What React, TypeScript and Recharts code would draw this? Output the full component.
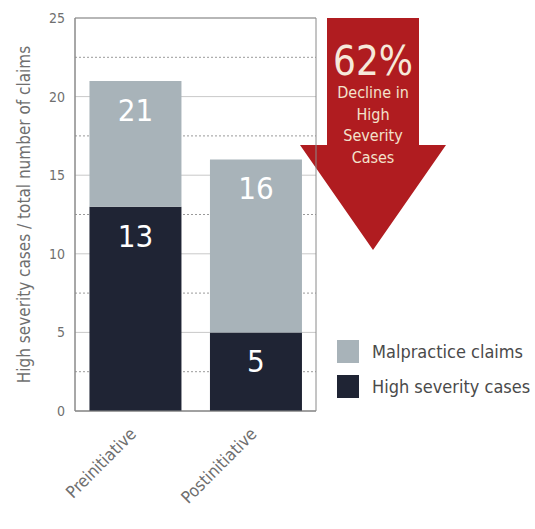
import { BarChart, Bar, XAxis, YAxis, CartesianGrid, LabelList, Customized, ReferenceArea } from "recharts";

const categories = ["Preinitiative", "Postinitiative"];
const malpracticeClaims = [21, 16];
const highSeverityCases = [13, 5];
const yTicks = [0, 5, 10, 15, 20, 25];
const minorTicks = [2.5, 7.5, 12.5, 17.5, 22.5];
const declinePct = 62;
const declineText = ["Decline in", "High", "Severity", "Cases"];

const LIGHT = "#a8b3b9";
const DARK = "#1f2434";
const RED = "#b01c20";
const GRID = "#c9c9c9";
const TEXT = "#6f6f6f";
const FONT = "'Liberation Sans Narrow', 'DejaVu Sans Condensed', 'Roboto', sans-serif";

const data = categories.map((name, i) => ({
  name,
  severe: highSeverityCases[i],
  rest: malpracticeClaims[i] - highSeverityCases[i],
  total: malpracticeClaims[i],
}));

const legendItems = [
  { label: "Malpractice claims", color: LIGHT },
  { label: "High severity cases", color: DARK },
];

function SegmentLabel(props: any) {
  const { x, y, width, value } = props;
  return (
    <text
      x={x + width / 2}
      y={y + 40}
      textAnchor="middle"
      fill="#ffffff"
      fontSize={31}
      fontFamily={FONT}
    >
      {value}
    </text>
  );
}

function CategoryTick(props: any) {
  const { x, y, payload } = props;
  return (
    <g transform={`translate(${x + 2},${y + 16})`}>
      <text
        transform="rotate(-45)"
        textAnchor="end"
        fill={TEXT}
        fontSize={17}
        fontFamily={FONT}
      >
        {payload.value}
      </text>
    </g>
  );
}

function DeclineArrow() {
  // decorative callout arrow
  const cx = 373;
  return (
    <g>
      <polygon
        points={`327,18 419,18 419,145 446,145 ${cx},250 300,145 327,145`}
        fill={RED}
      />
      <text x={cx} y={75} textAnchor="middle" fill="#f6e9da" fontSize={40} fontFamily={FONT}>
        {declinePct}%
      </text>
      {declineText.map((t, i) => (
        <text
          key={t}
          x={cx}
          y={98 + i * 21.5}
          textAnchor="middle"
          fill="#f3e2cc"
          fontSize={16}
          fontFamily={FONT}
        >
          {t}
        </text>
      ))}
    </g>
  );
}

export default function App() {
  return (
    <div style={{ position: "absolute", left: 0, top: 0, width: 535, height: 529, background: "#fff" }}>
      <BarChart
        width={535}
        height={529}
        data={data}
        margin={{ top: 18, right: 219, bottom: 18, left: 30 }}
        barCategoryGap="12%"
      >
        <CartesianGrid vertical={false} stroke={GRID} />
        <CartesianGrid vertical={false} horizontalValues={minorTicks} stroke="#9a9a9a" strokeDasharray="2 2" />
        <XAxis
          dataKey="name"
          height={100}
          tickLine={false}
          axisLine={{ stroke: "#8a8a8a" }}
          tick={<CategoryTick />}
          interval={0}
        />
        <YAxis
          width={45}
          domain={[0, 25]}
          ticks={yTicks}
          tickLine={false}
          tickSize={0}
          tickMargin={10}
          axisLine={{ stroke: "#8a8a8a" }}
          tick={{ fill: TEXT, fontSize: 14, fontFamily: FONT }}
          label={{
            value: "High severity cases / total number of claims",
            angle: -90,
            position: "left",
            offset: 6,
            style: { fill: TEXT, fontSize: 17, fontFamily: FONT, textAnchor: "middle" },
          }}
        />
        <Bar dataKey="severe" stackId="a" fill={DARK} isAnimationActive={false}>
          <LabelList dataKey="severe" content={<SegmentLabel />} />
        </Bar>
        <Bar dataKey="rest" stackId="a" fill={LIGHT} isAnimationActive={false}>
          <LabelList dataKey="total" content={<SegmentLabel />} />
        </Bar>
        <ReferenceArea y1={0} y2={25} fill="none" stroke="#8a8a8a" />
        <Customized component={<DeclineArrow />} />
      </BarChart>
      <div style={{ position: "absolute", left: 337, top: 334, fontFamily: FONT, fontSize: 18, color: "#4a4a4a" }}>
        {legendItems.map((it) => (
          <div key={it.label} style={{ display: "flex", alignItems: "center", height: 35, whiteSpace: "nowrap" }}>
            <span style={{ display: "inline-block", width: 22, height: 23, background: it.color, marginRight: 13 }} />
            {it.label}
          </div>
        ))}
      </div>
    </div>
  );
}
